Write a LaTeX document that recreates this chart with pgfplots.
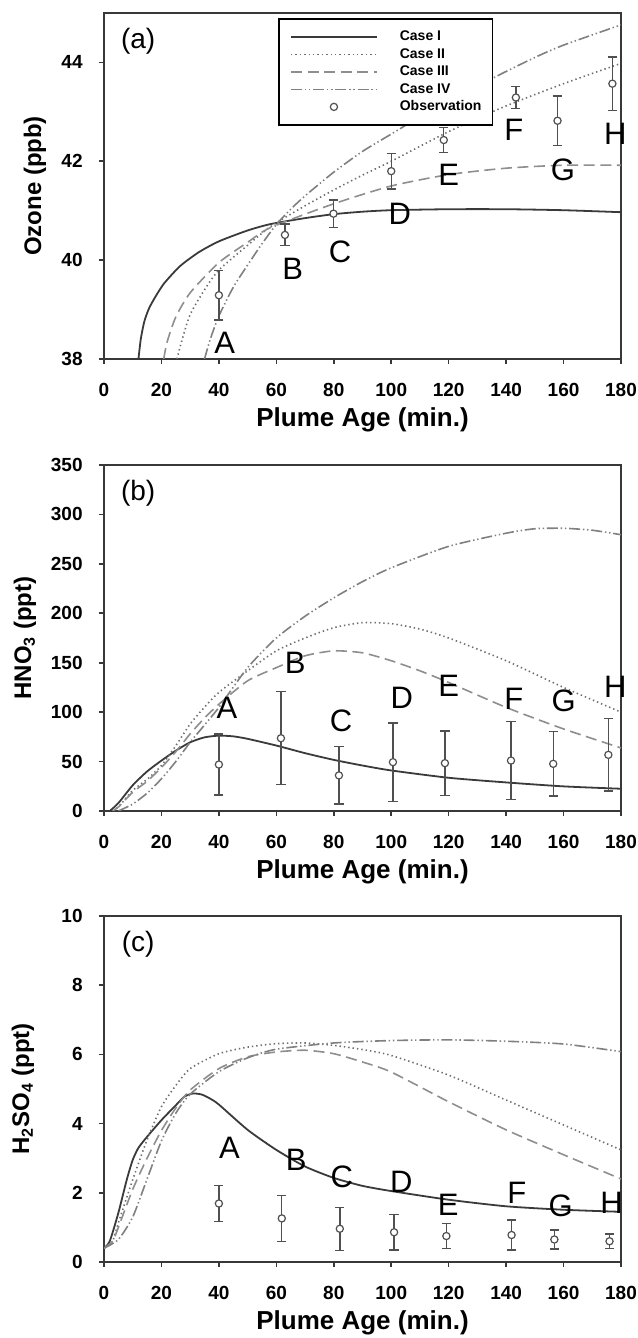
\documentclass[border=0pt]{standalone}
\usepackage{fontspec}
\setmainfont{Liberation Sans}
\usepackage{pgfplots}
\pgfplotsset{compat=1.18}
\definecolor{axisgray}{HTML}{383838}
\definecolor{errgray}{HTML}{505050}
\definecolor{caseone}{HTML}{3A3A3A}
\definecolor{casetwo}{HTML}{6E6E6E}
\definecolor{casethree}{HTML}{8E8E8E}
\definecolor{casefour}{HTML}{808080}

\pgfplotsset{
  panel/.style={
    scale only axis, width=258.5pt, height=173pt,
    xmin=0, xmax=180, xtick={0,20,...,180},
    axis line style={draw=axisgray, line width=1pt},
    tick align=outside, major tick length=2.5pt,
    tick style={draw=axisgray, line width=0.8pt},
    xtick pos=bottom, ytick pos=left,
    /pgf/number format/assume math mode=true,
    tick label style={font=\fontsize{9.5}{10}\selectfont\bfseries},
    xticklabel style={anchor=center, yshift=-13pt},
    yticklabel style={anchor=east, inner sep=0pt, xshift=-8pt},
    every axis x label/.style={at={(axis description cs:0.5,0)}, anchor=center,
      yshift=-30.5pt, font=\fontsize{13}{15}\selectfont\bfseries},
    xlabel={Plume Age (min.)},
    clip mode=individual,
  },
  ylab/.style={every axis y label/.style={at={(axis description cs:0,0.5)},
      xshift=#1, rotate=90, anchor=center, font=\fontsize{12}{14}\selectfont\bfseries}},
  c1/.style={draw=caseone, line width=0.9pt, no marks, smooth, tension=0.4,
    legend image code/.code={\draw[##1] (0pt,0pt) -- (43pt,0pt); \path (54pt,0pt);}},
  c2/.style={draw=casetwo, line width=0.8pt, no marks, smooth, tension=0.4,
    dash pattern=on 0.7pt off 1.5pt,
    legend image code/.code={\draw[##1] (0pt,0pt) -- (43pt,0pt); \path (54pt,0pt);}},
  c3/.style={draw=casethree, line width=0.8pt, no marks, smooth, tension=0.4,
    dash pattern=on 5.5pt off 2.8pt,
    legend image code/.code={\draw[##1] (0pt,0pt) -- (43pt,0pt); \path (54pt,0pt);}},
  c4/.style={draw=casefour, line width=0.8pt, no marks, smooth, tension=0.4,
    dash pattern=on 5.5pt off 1.4pt on 0.7pt off 1.4pt on 0.7pt off 1.4pt,
    legend image code/.code={\draw[##1] (0pt,0pt) -- (43pt,0pt); \path (54pt,0pt);}},
  obs/.style={only marks, mark=*, mark size=1.8pt,
    mark options={draw=errgray, fill=white, line width=0.6pt, solid},
    error bars/y dir=both, error bars/y explicit,
    error bars/error bar style={draw=errgray, line width=0.7pt, solid},
    error bars/error mark options={draw=errgray, line width=0.7pt, mark size=2.3pt, rotate=90},
  },
  obsleg/.style={legend image code/.code={\draw[mark repeat=2,mark phase=2,##1]
      plot coordinates {(0pt,0pt) (21.5pt,0pt) (43pt,0pt)}; \path (54pt,0pt);}},
}
\newcommand{\letterfont}{\fontsize{15.5}{16}\selectfont}
\newcommand{\panelfont}{\fontsize{14}{15}\selectfont}

\begin{document}
\begin{tikzpicture}
% ---------------- (a) Ozone ----------------
\begin{axis}[panel, at={(52pt,489.5pt)}, anchor=south west,
  ymin=38, ymax=45, ytick={38,40,42,44},
  ylab=-34.5pt, ylabel={Ozone (ppb)},
  legend style={at={(rel axis cs:0.337,0.985)}, anchor=north west,
    draw=black, line width=0.8pt, fill=white,
    inner xsep=5.5pt, inner ysep=5.6pt, row sep=2.05pt, column sep=0pt,
    font=\fontsize{7}{8}\selectfont\bfseries,
    nodes={inner sep=0pt, text height=5.2pt, text depth=1.5pt},
    cells={anchor=west}},
]
\addplot[c1] coordinates {(12,38) (12.8,38.4) (14,38.75) (15.5,39.0) (17.3,39.2)
  (20.8,39.52) (26.5,39.88) (33,40.16) (40,40.38) (50,40.6) (58,40.73) (70,40.85)
  (80,40.93) (90,40.98) (100,41.01) (120,41.03) (140,41.03) (160,41.01) (180,40.97)};
\addlegendentry{Case I}
\addplot[c2] coordinates {(25.4,38) (27,38.35) (30,38.9) (35,39.4) (40,39.8)
  (50,40.3) (58,40.68) (70,41.1) (80,41.42) (90,41.72) (100,42.0) (120,42.6)
  (140,43.12) (160,43.57) (180,43.98)};
\addlegendentry{Case II}
\addplot[c3] coordinates {(20.8,38) (22,38.35) (25,38.85) (30,39.34) (40,39.95)
  (50,40.36) (58,40.66) (80,41.14) (100,41.5) (120,41.73) (140,41.86) (160,41.92)
  (180,41.92)};
\addlegendentry{Case III}
\addplot[c4] coordinates {(35,38) (37,38.4) (40,38.87) (45,39.45) (50,39.9)
  (55,40.33) (60,40.72) (65,41.03) (70,41.3) (80,41.78) (90,42.2) (100,42.55)
  (110,42.9) (120,43.2) (136,43.7) (150,44.1) (160,44.35) (180,44.76)};
\addlegendentry{Case IV}
\addplot[obs, obsleg] coordinates {
  (40,39.29) +- (0,0.50)
  (63,40.51) +- (0,0.22)
  (79.9,40.94) +- (0,0.28)
  (100,41.80) +- (0,0.36)
  (118.3,42.43) +- (0,0.25)
  (143.4,43.29) +- (0,0.22)
  (157.9,42.82) +- (0,0.50)
  (177,43.57) +- (0,0.54)};
\addlegendentry{Observation}
\node[font=\panelfont] at (rel axis cs:0.066,0.917) {(a)};
\node[font=\letterfont] at (axis cs:42,38.33) {A};
\node[font=\letterfont] at (axis cs:65.7,39.82) {B};
\node[font=\letterfont] at (axis cs:82.2,40.16) {C};
\node[font=\letterfont] at (axis cs:103,40.94) {D};
\node[font=\letterfont] at (axis cs:120,41.72) {E};
\node[font=\letterfont] at (axis cs:142.7,42.63) {F};
\node[font=\letterfont] at (axis cs:159.8,41.83) {G};
\node[font=\letterfont] at (axis cs:178,42.56) {H};
\end{axis}

% ---------------- (b) HNO3 ----------------
\begin{axis}[panel, at={(52pt,263.5pt)}, anchor=south west,
  ymin=0, ymax=350, ytick={0,50,...,350},
  ylab=-39.5pt, ylabel={HNO\textsubscript{3} (ppt)},
]
\addplot[c1] coordinates {(2,0) (5,8) (10,26) (15,40) (20,51) (25,61) (30,69.5)
  (35,74.5) (40,76.2) (45,75.5) (50,73) (60,66.2) (70,58.5) (80,51.7) (90,46)
  (100,41) (120,33.6) (140,28.9) (160,24.9) (180,22.5)};
\addplot[c2] coordinates {(3,0) (5,4) (10,20.8) (15,32) (20,46) (25,66) (30,88)
  (35,105) (40,120) (50,141.8) (60,162) (70,175) (80,185.4) (90,190.5) (100,189.5)
  (110,184) (120,175) (140,152) (160,125) (180,100)};
\addplot[c3] coordinates {(3,0) (5,4) (10,19) (15,30) (20,44) (25,60) (30,78)
  (35,94) (40,108) (50,131.7) (60,145) (70,157) (80,162) (90,160) (100,152)
  (110,141.8) (120,130) (140,104.8) (160,83) (180,63.8)};
\addplot[c4] coordinates {(5,0) (10,7) (15,18) (20,32.6) (25,50) (30,69.5) (35,87)
  (40,104.8) (50,145) (60,175) (70,197) (80,215.6) (90,232) (100,246) (120,267.7)
  (140,281) (150,285.5) (160,286) (170,284) (180,279.5)};
\addplot[obs] coordinates {
  (40,47) +- (0,31)
  (61.6,73.6) +- (0,47)
  (81.8,36) +- (0,29)
  (100.6,49.4) +- (0,39.5)
  (118.7,48.4) +- (0,32.5)
  (141.7,51) +- (0,39.3)
  (156.4,47.7) +- (0,32.7)
  (175.6,56.8) +- (0,36.7)};
\node[font=\panelfont] at (rel axis cs:0.066,0.917) {(b)};
\node[font=\letterfont] at (axis cs:42.8,104.8) {A};
\node[font=\letterfont] at (axis cs:66.6,150) {B};
\node[font=\letterfont] at (axis cs:82.5,91.4) {C};
\node[font=\letterfont] at (axis cs:103.7,114.9) {D};
\node[font=\letterfont] at (axis cs:120,126.6) {E};
\node[font=\letterfont] at (axis cs:142.7,113) {F};
\node[font=\letterfont] at (axis cs:160,111.5) {G};
\node[font=\letterfont] at (axis cs:178,125.6) {H};
\end{axis}

% ---------------- (c) H2SO4 ----------------
\begin{axis}[panel, at={(52pt,38pt)}, anchor=south west,
  ymin=0, ymax=10, ytick={0,2,...,10},
  ylab=-40.5pt, ylabel={H\textsubscript{2}SO\textsubscript{4} (ppt)},
]
\addplot[c1] coordinates {(0,0.4) (2,0.6) (5,1.42) (8,2.4) (10,2.95) (12,3.3)
  (15,3.62) (20,4.1) (25,4.53) (28,4.78) (31,4.87) (34,4.84) (37,4.72) (40,4.55)
  (50,3.82) (60,3.24) (70,2.76) (80,2.43) (90,2.2) (100,2.05) (120,1.8) (140,1.61)
  (160,1.51) (180,1.45)};
\addplot[c2] coordinates {(0,0.4) (3,0.6) (5,1.13) (10,2.38) (15,3.53) (20,4.49)
  (25,5.1) (30,5.59) (40,6.02) (50,6.21) (60,6.31) (70,6.33) (80,6.26) (90,6.14)
  (100,5.97) (120,5.4) (140,4.68) (160,3.96) (180,3.24)};
\addplot[c3] coordinates {(0,0.4) (3,0.6) (5,1.0) (10,2.1) (15,3.0) (20,3.8)
  (25,4.45) (30,4.97) (40,5.59) (50,5.93) (60,6.07) (70,6.12) (80,6.02) (90,5.78)
  (100,5.49) (120,4.63) (140,3.82) (160,3.1) (180,2.4)};
\addplot[c4] coordinates {(0,0.4) (5,0.65) (10,1.3) (15,2.4) (20,3.5) (25,4.3)
  (30,4.85) (40,5.5) (50,5.9) (60,6.15) (80,6.33) (100,6.4) (120,6.42) (140,6.38)
  (160,6.3) (180,6.08)};
\addplot[obs] coordinates {
  (40,1.69) +- (0,0.52)
  (61.9,1.26) +- (0,0.67)
  (82.1,0.96) +- (0,0.62)
  (101,0.86) +- (0,0.51)
  (119.2,0.75) +- (0,0.36)
  (141.9,0.78) +- (0,0.43)
  (156.8,0.65) +- (0,0.28)
  (176,0.6) +- (0,0.21)};
\node[font=\panelfont] at (rel axis cs:0.066,0.917) {(c)};
\node[font=\letterfont] at (axis cs:43.7,3.29) {A};
\node[font=\letterfont] at (axis cs:66.9,2.95) {B};
\node[font=\letterfont] at (axis cs:82.8,2.47) {C};
\node[font=\letterfont] at (axis cs:103.5,2.33) {D};
\node[font=\letterfont] at (axis cs:119.8,1.66) {E};
\node[font=\letterfont] at (axis cs:143.7,1.99) {F};
\node[font=\letterfont] at (axis cs:159,1.61) {G};
\node[font=\letterfont] at (axis cs:176.7,1.71) {H};
\end{axis}
\pgfresetboundingbox
\path[use as bounding box] (0,0) rectangle (318.5pt,669pt);
\end{tikzpicture}
\end{document}
